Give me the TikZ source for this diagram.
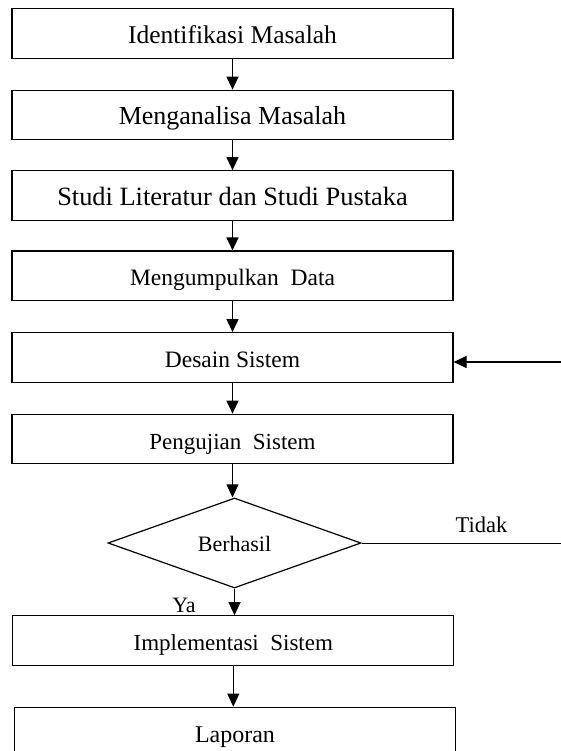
\documentclass[tikz,border=0pt]{standalone}
\usepackage{fontspec}
\setmainfont{Liberation Serif}
\usetikzlibrary{shapes.geometric,arrows.meta,calc}
\newcommand\fsz[1]{\fontsize{#1}{#1}\selectfont}
\begin{document}
\begin{tikzpicture}[x=1pt,y=-1pt,
  box/.style={draw, rectangle, line width=1.2pt, minimum width=441pt, minimum height=49.5pt,
    inner sep=0pt, text height=20pt, text depth=0pt, font=\fsz{25}},
  arr/.style={line width=1.2pt, -{Triangle[length=13pt,width=12pt]}},
  lbl/.style={anchor=base, inner sep=0pt, font=\fsz{22.5}}]
\useasboundingbox (0,0) rectangle (561,751);
\clip (0,0) rectangle (561,751);
\node[box,font=\fsz{25.5}] (b1) at (232.5,33.4) {Identifikasi Masalah};
\node[box,font=\fsz{26}] (b2) at (232.5,115) {Menganalisa Masalah};
\node[box,font=\fsz{26.4}] (b3) at (232.5,195.5) {Studi Literatur dan Studi Pustaka};
\node[box,font=\fsz{23.5}] (b4) at (232.5,275.8) {Mengumpulkan\ \ Data};
\node[box,font=\fsz{23.5}] (b5) at (232.5,357.4) {Desain Sistem};
\node[box,font=\fsz{23}] (b6) at (232.5,439) {Pengujian\ \ Sistem};
\node[diamond, draw, line width=1.2pt, minimum width=253pt, minimum height=90pt, inner sep=0pt,
  aspect=2.8, font=\fsz{22}, text height=16pt, text depth=0pt] (d) at (234.5,543) {Berhasil};
\node[box,font=\fsz{23}] (b7) at (233.3,640.5) {Implementasi\ \ Sistem};
\node[box,font=\fsz{24}] (b8) at (235,732) {Laporan};
\node[lbl,font=\fsz{22}] (ya) at (184,612) {Ya};
\node[lbl] (tidak) at (481.5,532) {Tidak};
\coordinate (fb) at (561,362);
\coordinate (te) at (561,544);
\draw[arr] (b1.south) -- (b2.north);
\draw[arr] (b2.south) -- (b3.north);
\draw[arr] (b3.south) -- (b4.north);
\draw[arr] (b4.south) -- (b5.north);
\draw[arr] (b5.south) -- (b6.north);
\draw[arr] (b6.south) -- (d.north -| b6.south);
\draw[arr] (d.south) -- (b7.north -| d.south);
\draw[arr] (b7.south) -- (b8.north -| b7.south);
\draw[arr] (fb) -- (fb -| b5.east);
\draw[line width=1pt] (d.east) -- (d.east -| te);
\end{tikzpicture}
\end{document}
